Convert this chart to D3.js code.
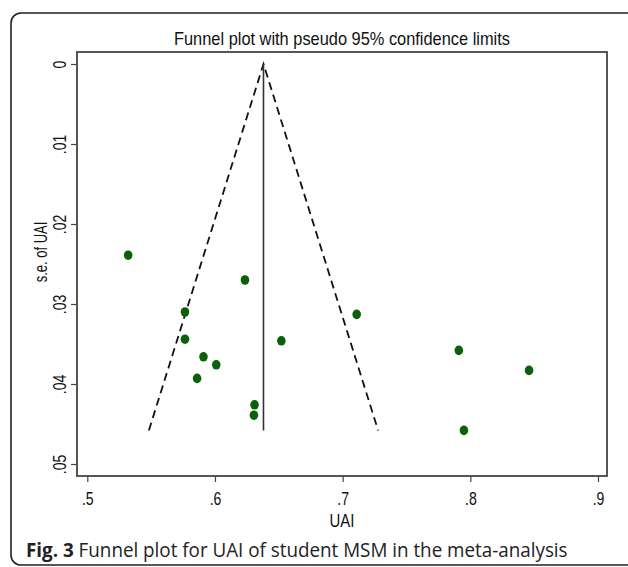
<!DOCTYPE html>
<html><head><meta charset="utf-8">
<script src="https://cdn.jsdelivr.net/npm/d3@7"></script>
<style>body{margin:0;background:#fff}svg{display:block}</style>
</head><body>
<script>
// Data
const uai = [0.532, 0.6235, 0.5765, 0.5765, 0.652, 0.591, 0.601, 0.586, 0.631, 0.6305, 0.711, 0.791, 0.846, 0.795];
const se  = [0.0239, 0.0270, 0.0310, 0.0344, 0.0346, 0.0366, 0.0376, 0.0393, 0.0426, 0.0439, 0.0313, 0.0358, 0.0383, 0.0458];
const pooled = 0.638;
const seMax = 0.0458;
const xTicks = [0.5, 0.6, 0.7, 0.8, 0.9];
const yTicks = [0, 0.01, 0.02, 0.03, 0.04, 0.05];
const titleText = "Funnel plot with pseudo 95% confidence limits";
const xLabel = "UAI";
const yLabel = "s.e. of UAI";
const capBold = "Fig. 3";
const capText = " Funnel plot for UAI of student MSM in the meta-analysis";

const W = 628, H = 567;
const FONT = "Liberation Sans, Arial, sans-serif";
const svg = d3.select("body").append("svg").attr("width", W).attr("height", H);

function squeeze(sel, f) {
  sel.each(function () {
    const L = this.getComputedTextLength();
    d3.select(this).attr("textLength", L * f).attr("lengthAdjust", "spacingAndGlyphs");
  });
}
function fitWidth(sel, w) {
  sel.each(function () {
    d3.select(this).attr("textLength", w).attr("lengthAdjust", "spacingAndGlyphs");
  });
}

// outer frame
svg.append("rect").attr("x", 11).attr("y", 13).attr("width", 660).attr("height", 552)
  .attr("rx", 10).attr("ry", 10).attr("fill", "none").attr("stroke", "#222").attr("stroke-width", 1.6);

const box = {l: 77, r: 607, t: 52, b: 476};
const x = d3.scaleLinear().domain([0.5, 0.9]).range([87.3, 598]);
const y = d3.scaleLinear().domain([0, 0.05]).range([64, 464]);

const fmt = d => d === 0 ? "0" : d3.format(".2~f")(d).replace(/^0/, "");

// plot box
svg.append("rect").attr("x", box.l).attr("y", box.t).attr("width", box.r - box.l).attr("height", box.b - box.t)
  .attr("fill", "none").attr("stroke", "#444").attr("stroke-width", 1.8);

// x axis
const xa = svg.append("g").attr("transform", `translate(0,${box.b})`)
  .call(d3.axisBottom(x).tickValues(xTicks).tickFormat(fmt).tickSize(6).tickPadding(0));
xa.select(".domain").remove();
xa.selectAll("line").attr("stroke", "#444").attr("stroke-width", 1.2);
xa.selectAll("text").attr("font-family", FONT).attr("font-size", 18).attr("fill", "#111")
  .attr("dy", null).attr("y", 29);
squeeze(xa.selectAll("text"), 0.78);

// y axis
const ya = svg.append("g").attr("transform", `translate(${box.l},0)`)
  .call(d3.axisLeft(y).tickValues(yTicks).tickFormat(fmt).tickSize(6).tickPadding(0));
ya.select(".domain").remove();
ya.selectAll("line").attr("stroke", "#444").attr("stroke-width", 1.2);
ya.selectAll("text").attr("font-family", FONT).attr("font-size", 18).attr("fill", "#111")
  .attr("text-anchor", "middle").attr("dy", null)
  .attr("transform", "translate(-11,0) rotate(-90)").attr("x", 0).attr("y", 0);
squeeze(ya.selectAll("text"), 0.78);

// title
const tt = svg.append("text").attr("x", (box.l + box.r) / 2).attr("y", 45).attr("text-anchor", "middle")
  .attr("font-family", FONT).attr("font-size", 19).attr("fill", "#111")
  .text(titleText);
fitWidth(tt, 336);

// axis labels
const xl = svg.append("text").attr("x", (box.l + box.r) / 2).attr("y", 527).attr("text-anchor", "middle")
  .attr("font-family", FONT).attr("font-size", 18).attr("fill", "#111").text(xLabel);
squeeze(xl, 0.83);
const yl = svg.append("text").attr("transform", `translate(47,${y(0.0235)}) rotate(-90)`).attr("text-anchor", "middle")
  .attr("font-family", FONT).attr("font-size", 18).attr("fill", "#111").text(yLabel);
squeeze(yl, 0.72);

// funnel lines
const lo = pooled - 1.96 * seMax, hi = pooled + 1.96 * seMax;
const line = d3.line().x(d => x(d[0])).y(d => y(d[1]));
svg.append("path").attr("d", line([[lo, seMax], [pooled, 0], [hi, seMax]]))
  .attr("fill", "none").attr("stroke", "#111").attr("stroke-width", 1.8).attr("stroke-dasharray", "8,5");
svg.append("path").attr("d", line([[pooled, 0], [pooled, seMax]]))
  .attr("fill", "none").attr("stroke", "#333").attr("stroke-width", 1.6);

// points
svg.append("g").selectAll("ellipse").data(uai.map((u, i) => [u, se[i]])).join("ellipse")
  .attr("cx", d => x(d[0])).attr("cy", d => y(d[1])).attr("rx", 4.3).attr("ry", 4.8)
  .attr("fill", "#0b610b");

// caption
const capG = svg.append("g");
const cap = capG.append("text").attr("x", 0).attr("y", 0)
  .attr("font-family", "Open Sans, sans-serif").attr("font-size", 20).attr("fill", "#222");
cap.append("tspan").attr("font-weight", "bold").text(capBold);
cap.append("tspan").text(capText);
const cw = cap.node().getBBox().width;
capG.attr("transform", `translate(26,557) scale(${542 / cw},1)`);
</script>
</body></html>
